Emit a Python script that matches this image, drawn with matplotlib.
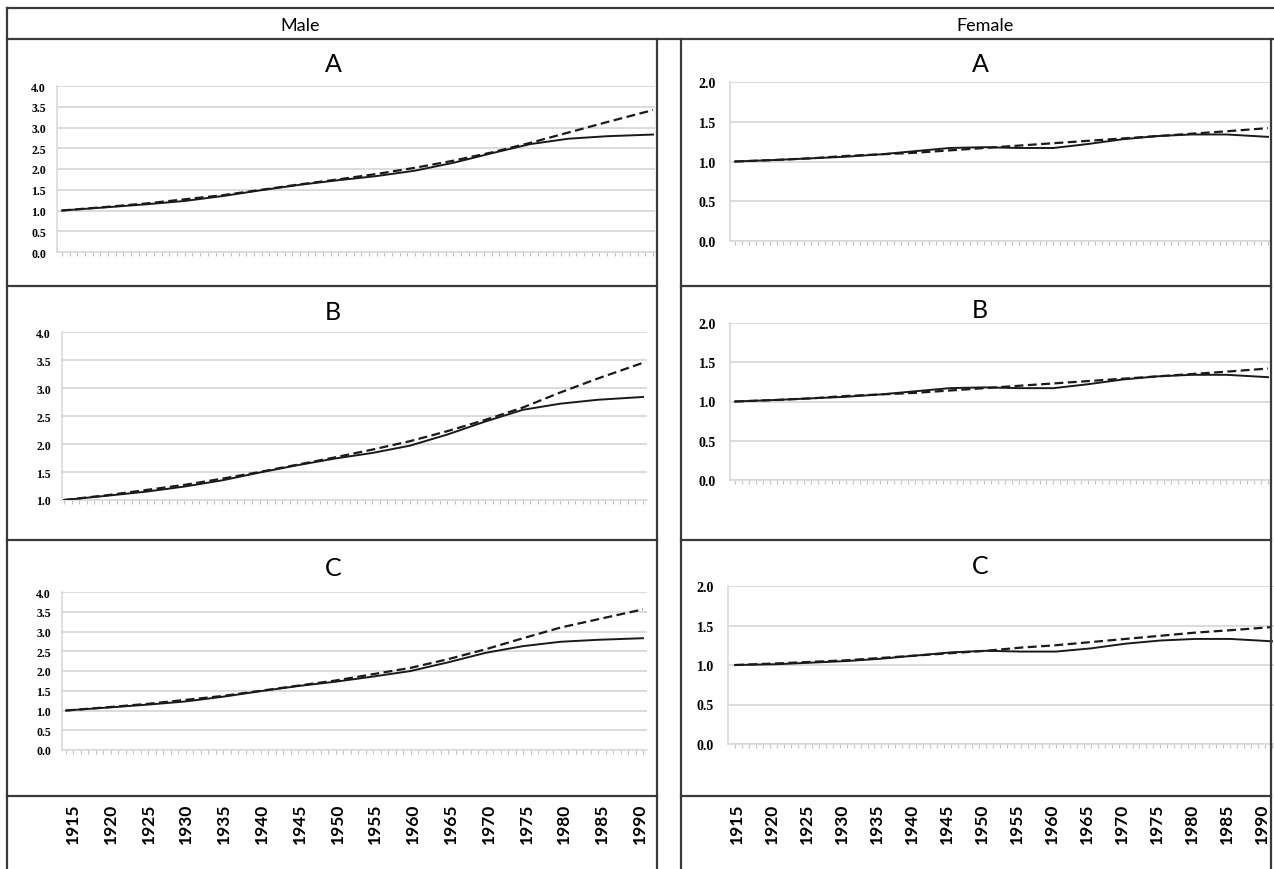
import matplotlib
matplotlib.use('Agg')
import matplotlib.pyplot as plt
from matplotlib.lines import Line2D

# Years (first and last are the line ends)
YEARS = [1914, 1920, 1925, 1930, 1935, 1940, 1945, 1950,
         1955, 1960, 1965, 1970, 1975, 1980, 1985, 1991]

LABEL_YEARS = list(range(1915, 1991, 5))

# Male panels
male_a_solid = [1.00, 1.08, 1.15, 1.23, 1.35, 1.49, 1.62, 1.73,
                1.83, 1.96, 2.15, 2.38, 2.60, 2.73, 2.79, 2.83]
male_a_dashed = [1.00, 1.09, 1.17, 1.27, 1.37, 1.50, 1.63, 1.75,
                 1.88, 2.03, 2.20, 2.40, 2.63, 2.88, 3.13, 3.42]
male_b_solid = [1.00, 1.08, 1.15, 1.24, 1.35, 1.49, 1.62, 1.74,
                1.84, 1.97, 2.17, 2.40, 2.61, 2.72, 2.79, 2.84]
male_b_dashed = [1.00, 1.09, 1.18, 1.27, 1.38, 1.50, 1.63, 1.76,
                 1.90, 2.05, 2.23, 2.43, 2.65, 2.92, 3.17, 3.45]
male_c_solid = [1.00, 1.08, 1.15, 1.23, 1.35, 1.49, 1.62, 1.73,
                1.86, 2.00, 2.22, 2.46, 2.63, 2.74, 2.79, 2.83]
male_c_dashed = [1.00, 1.09, 1.17, 1.27, 1.37, 1.50, 1.63, 1.76,
                 1.92, 2.08, 2.30, 2.55, 2.83, 3.10, 3.31, 3.56]

# Female panels
female_a_solid = [1.00, 1.02, 1.04, 1.06, 1.09, 1.13, 1.17, 1.18,
                  1.17, 1.17, 1.22, 1.28, 1.32, 1.34, 1.34, 1.31]
female_a_dashed = [1.00, 1.02, 1.04, 1.07, 1.09, 1.11, 1.14, 1.17,
                   1.20, 1.23, 1.26, 1.29, 1.32, 1.35, 1.38, 1.42]
female_b_solid = [1.00, 1.02, 1.04, 1.06, 1.09, 1.13, 1.17, 1.18,
                  1.17, 1.17, 1.22, 1.28, 1.32, 1.34, 1.34, 1.31]
female_b_dashed = [1.00, 1.02, 1.04, 1.07, 1.09, 1.11, 1.14, 1.17,
                   1.20, 1.23, 1.26, 1.29, 1.32, 1.35, 1.38, 1.42]
female_c_solid = [1.00, 1.01, 1.03, 1.05, 1.08, 1.12, 1.16, 1.18,
                  1.17, 1.17, 1.21, 1.27, 1.31, 1.33, 1.33, 1.30]
female_c_dashed = [1.00, 1.02, 1.04, 1.06, 1.09, 1.12, 1.15, 1.18,
                   1.22, 1.25, 1.29, 1.33, 1.37, 1.41, 1.44, 1.48]

W, H = 1274, 870
GRID = '#d9d9d9'
BORDER = '#3a3a3a'


def px_axes(fig, left, top, right, bottom):
    # axes placed with pixel coordinates (origin top-left)
    return fig.add_axes([left / W, 1 - bottom / H, (right - left) / W, (bottom - top) / H])


def line_px(fig, x0, y0, x1, y1):
    fig.add_artist(Line2D([x0 / W, x1 / W], [1 - y0 / H, 1 - y1 / H],
                          transform=fig.transFigure, color=BORDER, lw=1.6))


def panel(fig, box, line_ends, ylim, solid, dashed, title, title_xy, ysize, ypad):
    left, top, right, bottom = box
    x_start, x_end = line_ends
    ppy = (x_end - x_start) / (YEARS[-1] - YEARS[0])
    ax = px_axes(fig, left, top, right, bottom)
    ax.set_xlim(YEARS[0] - (x_start - left) / ppy, YEARS[-1] + (right - x_end) / ppy)
    ax.set_ylim(*ylim)

    ax.plot(YEARS, solid, color='#1a1a1a', lw=1.4, zorder=3)
    ax.plot(YEARS, dashed, color='#1a1a1a', lw=1.6, ls=(0, (4, 2)), zorder=3)

    yt = [ylim[0] + 0.5 * i for i in range(int((ylim[1] - ylim[0]) / 0.5) + 1)]
    ax.set_yticks(yt)
    ax.set_yticklabels(['%.1f' % v for v in yt], family='Liberation Serif',
                       fontweight='bold', fontsize=ysize)
    ax.tick_params(axis='y', length=0, pad=ypad)
    ax.set_xticks(range(YEARS[0], YEARS[-1] + 1))
    ax.set_xticklabels([])
    ax.tick_params(axis='x', length=3, width=0.8, color='#c0c0c0', direction='out')
    ax.grid(True, axis='y', color=GRID, lw=1.3)
    for s in ['top', 'right']:
        ax.spines[s].set_visible(False)
    ax.spines['left'].set_color(GRID)
    ax.spines['bottom'].set_color(GRID)
    ax.spines['left'].set_linewidth(1.2)
    ax.spines['bottom'].set_linewidth(1.2)
    ax.set_facecolor('none')

    fig.text(title_xy[0] / W, 1 - title_xy[1] / H, title, family='Lato',
             fontsize=18, ha='center', va='center')
    return ax


def label_row(fig, left, right, x1915, x1990):
    ppy = (x1990 - x1915) / 75
    ax = px_axes(fig, left, 795, right, 797)
    ax.set_xlim(1915 - (x1915 - left) / ppy, 1915 + (right - x1915) / ppy)
    ax.set_xticks(LABEL_YEARS)
    ax.set_xticklabels([str(y) for y in LABEL_YEARS], rotation=90,
                       family='Lato', fontweight='bold', fontsize=12.5)
    ax.tick_params(axis='x', length=0, pad=5)
    ax.set_yticks([])
    for s in ax.spines.values():
        s.set_visible(False)
    ax.set_facecolor('none')


def main():
    fig = plt.figure(figsize=(W / 100, H / 100), dpi=100)

    # table borders
    line_px(fig, 7, 9, W, 9)
    line_px(fig, 7, 40, W, 40)
    line_px(fig, 7, 9, 7, H)
    line_px(fig, 657, 40, 657, H)
    line_px(fig, 681, 40, 681, H)
    line_px(fig, 1271, 40, 1271, H)
    for y in [287, 541, 797]:
        line_px(fig, 7, y, 657, y)
        line_px(fig, 681, y, 1271, y)

    fig.text(300 / W, 1 - 26 / H, 'Male', family='Lato', fontsize=13,
             ha='center', va='center')
    fig.text(985 / W, 1 - 26 / H, 'Female', family='Lato', fontsize=13,
             ha='center', va='center')

    # Male column
    panel(fig, (57, 87, 655, 253), (62, 653), (0, 4), male_a_solid, male_a_dashed,
          'A', (333, 65), 8.5, 8)
    panel(fig, (62, 333, 647, 501), (64, 643), (1, 4), male_b_solid, male_b_dashed,
          'B', (333, 312), 8.5, 8)
    panel(fig, (62, 593, 647, 751), (66, 643), (0, 4), male_c_solid, male_c_dashed,
          'C', (333, 568), 8.5, 8)

    # Female column
    panel(fig, (730, 83, 1271, 242), (735, 1268), (0, 2), female_a_solid, female_a_dashed,
          'A', (980, 65), 10, 10)
    panel(fig, (730, 324, 1271, 481), (735, 1268), (0, 2), female_b_solid, female_b_dashed,
          'B', (980, 311), 10, 10)
    panel(fig, (728, 587, 1274, 745), (735, 1272), (0, 2), female_c_solid, female_c_dashed,
          'C', (980, 567), 10, 10)

    label_row(fig, 57, 655, 73, 640)
    label_row(fig, 730, 1271, 737, 1262)

    fig.savefig('out.png', dpi=100)


if __name__ == "__main__":
    main()
